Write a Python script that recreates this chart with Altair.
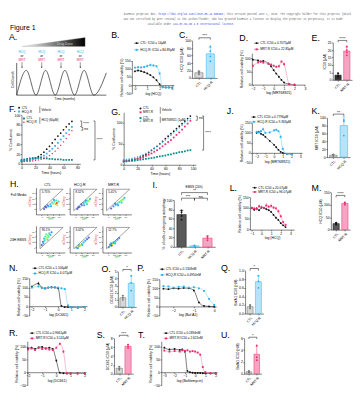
import altair as alt
import pandas as pd

FONT = "Liberation Sans"
MONO = "Liberation Mono"
SX = 0.985
SY = 0.975


def X(r):
    return (r - 4.0) * SX


def Y(r):
    return (r - 1.0) * SY


W = X(362)
H = Y(392)

# ---------------- colours ----------------
BLK = "#111111"
BLUE = "#29b3ee"
BLUE_L = "#86d0f2"
BLUE_F = "#b5e3f8"
PINK = "#ec2d6f"
PINK_L = "#f48db2"
PINK_F = "#f7a3c2"
TEAL = "#0b8a8c"
GRAY_F = "#d6d6d6"
GRAY_S = "#666666"
DARK_F = "#5a5a5a"

# ---------------- header text ----------------
HEADER_1 = ["bioRxiv preprint doi: ", "https://doi.org/10.1101/2025.05.29.656904",
            "; this version posted June 1, 2025. The copyright holder for this preprint (which"]
HEADER_2 = ("was not certified by peer review) is the author/funder, who has granted bioRxiv a "
            "license to display the preprint in perpetuity. It is made")
HEADER_3 = ["available under a", "CC-BY-NC-ND 4.0 International license", "."]

# ---------------- A (schematic) ----------------
A_t = [0, 1, 2, 3, 4, 5, 6, 7, 8, 9.3]
A_v = [0, 1, 0, 1, 0, 1, 0, 1, 0, 0.9]
A_drug_t = [0.55, 2.6, 4.6, 6.6]
A_tri_t = [0.6, 7.1]
A_tri_top = [1.97, 2.33]
A_tri_bot = [1.96, 1.96]

# ---------------- B ----------------
B_x = [0, 0.25, 0.5, 0.75, 1.0, 1.25, 1.5, 1.75, 2.0, 2.25, 2.5, 2.75, 3.0]
B_ctl = [85, 90, 86, 80, 72, 62, 48, 30, 6, -12, -14, -14, -15]
B_ctl_e = [6, 5, 4, 4, 5, 6, 6, 5, 4, 2, 2, 2, 2]
B_hcq = [108, 110, 109, 112, 118, 124, 121, 116, 72, -14, -15, -15, -15]
B_hcq_e = [5, 4, 6, 8, 10, 12, 8, 6, 10, 2, 2, 2, 2]

# ---------------- C ----------------
C_ctl = [10, 14, 18]
C_hcq = [45, 58, 85, 72]

# ---------------- D ----------------
D_x = [-2, -1.5, -1.25, -1.0, -0.5, -0.25, 0, 0.25, 0.5, 0.75, 1.0, 1.5, 2.0]
D_ctl = [95, 92, 88, 90, 80, 70, 55, 42, 30, 18, 8, 2, 0]
D_ctl_e = [4, 4, 3, 4, 4, 4, 4, 3, 3, 3, 2, 1, 1]
D_mrt = [72, 85, 88, 84, 80, 76, 72, 68, 70, 88, 78, 2, 0]
D_mrt_e = [8, 6, 5, 5, 5, 6, 5, 5, 6, 6, 8, 1, 1]

# ---------------- E ----------------
E_ctl = [2.0, 3.0, 4.5]
E_mrt = [16.5, 18.5, 22.5, 20.0]

# ---------------- F (growth) ----------------
F_t = [0, 4, 8, 12, 16, 20, 24, 28, 32, 36, 40, 44, 48, 52, 56, 60, 64, 68, 72]
F_ctl = [5, 6, 7, 8, 10, 12, 15, 19, 24, 30, 36, 43, 50, 57, 63, 70, 76, 82, 87]
F_hcq = [6, 7, 8, 8, 9, 10, 12, 14, 17, 21, 26, 31, 37, 43, 50, 57, 63, 70, 76]
F_ctl_drug = [8, 9, 10, 11, 12, 12, 12, 12, 11, 11, 10, 10, 9, 9, 9, 8, 8, 8, 8]
F_hcq_drug = [4, 5, 5, 5, 6, 7, 8, 9, 11, 14, 17, 21, 26, 32, 38, 45, 52, 60, 68]

# ---------------- G (growth) ----------------
G_t = [0, 4, 8, 12, 16, 20, 24, 28, 32, 36, 40, 44, 48, 52, 56, 60, 64, 68, 72, 76, 80, 84, 88, 92, 96]
G_ctl = [8, 9, 10, 11, 13, 15, 18, 21, 25, 29, 34, 39, 44, 50, 56, 62, 68, 74, 80, 86, 92, 98, 104, 110, 116]
G_mrt = [10, 10, 11, 12, 13, 14, 16, 18, 21, 24, 27, 31, 35, 39, 44, 49, 54, 59, 65, 71, 77, 84, 91, 98, 105]
G_ctl_drug = [8, 8, 9, 9, 10, 11, 12, 13, 14, 15, 16, 17, 19, 20, 21, 22, 24, 25, 27, 28, 30, 31, 32, 34, 35]
G_mrt_drug = [12, 13, 14, 15, 17, 19, 21, 24, 27, 31, 35, 39, 44, 49, 54, 59, 64, 70, 76, 82, 88, 94, 100, 105, 110]

# ---------------- J ----------------
J_x = [-2, -1.75, -1.5, -1.25, -1, -0.5, 0, 0.25, 0.5, 0.75, 1.0, 1.5, 2.0]
J_ctl = [100, 105, 95, 90, 80, 60, 40, 28, 15, 5, 0, -5, -6]
J_ctl_e = [5, 6, 5, 4, 5, 5, 4, 4, 3, 3, 2, 2, 2]
J_hcq = [105, 102, 108, 118, 100, 102, 112, 115, 108, 80, 20, -5, -6]
J_hcq_e = [5, 6, 6, 8, 5, 5, 6, 6, 6, 8, 8, 2, 2]

# ---------------- K ----------------
K_ctl = [3, 5, 7]
K_hcq = [95, 92, 55]

# ---------------- H (flow) ----------------
H_PCT = ["5.75%", "8.52%", "5.41%", "90.1%", "3.02%", "12.7%"]
GATE_X = [0.7, 4.7, 0.7, 0.7]
GATE_Y = [4.7, 4.7, 0.7, 4.7]
H1_X = [1.4, 1.8, 2.2, 2.5, 2.8, 3.0, 3.2, 3.4, 3.6, 3.7, 3.5, 3.9, 2.0, 2.6, 1.6, 3.1]
H1_Y = [1.0, 1.3, 1.5, 1.9, 2.2, 2.0, 2.4, 1.9, 2.1, 1.7, 2.6, 2.4, 1.7, 1.5, 1.4, 2.7]
H1_D = [0.1, 0.15, 0.2, 0.25, 0.3, 0.45, 0.4, 0.7, 0.85, 0.6, 0.35, 0.3, 0.15, 0.2, 0.1, 0.2]
H2_X = [1.3, 1.7, 2.1, 2.4, 2.7, 2.9, 3.1, 3.3, 3.0, 2.5, 3.5, 2.0, 1.5, 2.8]
H2_Y = [1.0, 1.4, 1.7, 2.1, 2.3, 2.2, 2.6, 2.5, 1.9, 1.7, 2.9, 1.9, 1.3, 2.6]
H2_D = [0.1, 0.15, 0.2, 0.25, 0.3, 0.4, 0.35, 0.5, 0.3, 0.2, 0.25, 0.15, 0.1, 0.2]
H3_X = [1.5, 1.9, 2.3, 2.6, 2.9, 3.2, 3.4, 3.6, 3.3, 2.7, 3.8, 2.2]
H3_Y = [1.1, 1.5, 1.8, 2.0, 2.3, 2.5, 2.7, 2.8, 2.2, 1.7, 3.1, 2.0]
H3_D = [0.1, 0.15, 0.2, 0.3, 0.35, 0.45, 0.55, 0.4, 0.3, 0.2, 0.25, 0.15]
H4_X = [1.0, 1.2, 1.4, 1.6, 1.8, 1.5, 1.9, 2.1, 2.3, 2.0, 2.5, 1.3, 2.7, 1.7, 2.2]
H4_Y = [1.4, 2.0, 2.6, 3.0, 3.4, 2.2, 2.8, 3.2, 3.6, 2.4, 3.3, 1.7, 3.8, 2.5, 2.9]
H4_D = [0.1, 0.15, 0.25, 0.35, 0.4, 0.3, 0.5, 0.45, 0.3, 0.35, 0.25, 0.2, 0.15, 0.55, 0.4]
H5_X = [1.2, 1.5, 1.7, 1.9, 2.1, 2.4, 2.7, 3.0, 1.6, 2.2, 3.3, 1.4]
H5_Y = [0.9, 1.1, 1.2, 1.4, 1.6, 1.9, 2.2, 2.5, 1.4, 1.4, 2.8, 0.8]
H5_D = [0.2, 0.4, 0.7, 0.55, 0.35, 0.25, 0.2, 0.15, 0.3, 0.25, 0.1, 0.2]
H6_X = [1.1, 1.4, 1.6, 1.8, 2.0, 2.3, 2.6, 1.3, 1.9, 2.9, 1.5, 2.2]
H6_Y = [1.0, 1.3, 1.3, 1.5, 1.8, 2.1, 2.4, 1.5, 1.9, 2.7, 1.7, 1.7]
H6_D = [0.2, 0.35, 0.9, 0.6, 0.4, 0.3, 0.2, 0.25, 0.3, 0.15, 0.2, 0.25]

# ---------------- I ----------------
I_ctl = [58, 66, 74, 78]
I_hcq = [1, 2, 3]
I_mrt = [14, 19, 23]

# ---------------- L ----------------
L_x = [-1, -0.75, -0.5, -0.25, 0, 0.25, 0.5, 0.75, 1.0, 1.25, 1.5, 1.75, 2.0, 2.25, 2.5]
L_ctl = [100, 92, 98, 90, 102, 100, 95, 90, 82, 68, 55, 45, 30, 20, 12]
L_ctl_e = [6, 5, 6, 5, 6, 5, 5, 5, 5, 5, 5, 4, 4, 3, 3]
L_mrt = [100, 98, 95, 108, 104, 100, 112, 106, 110, 102, 98, 85, 62, 35, 22]
L_mrt_e = [6, 8, 6, 8, 8, 6, 12, 8, 10, 8, 8, 10, 8, 6, 5]

# ---------------- M ----------------
M_ctl = [20, 25, 28]
M_mrt = [100, 106, 110]

# ---------------- N ----------------
N_x = [-2, -1.5, -1.25, -1, -0.75, -0.5, -0.25, 0, 0.25, 0.5, 0.75, 1, 1.5, 2]
N_ctl = [105, 122, 100, 95, 100, 102, 100, 96, 2, -5, -5, -6, -8, -5]
N_ctl_e = [6, 10, 5, 4, 4, 3, 3, 4, 3, 2, 2, 2, 2, 2]
N_hcq = [100, 106, 100, 98, 101, 100, 103, 100, 96, 92, 4, -5, -6, -5]
N_hcq_e = [4, 5, 4, 3, 3, 3, 4, 3, 4, 5, 3, 2, 2, 2]

# ---------------- O ----------------
O_ctl = [1.0, 1.3, 1.6]
O_hcq = [2.3, 3.4, 4.4]

# ---------------- P ----------------
P_x = [-2.5, -2.25, -2, -1.75, -1.5, -1.25, -1, -0.75, -0.5, -0.25, 0]
P_ctl = [98, 95, 100, 98, 102, 100, 88, 22, 3, 0, -2]
P_ctl_e = [4, 4, 3, 4, 3, 3, 5, 5, 2, 2, 2]
P_hcq = [112, 110, 104, 108, 110, 104, 106, 100, 86, 42, 8]
P_hcq_e = [4, 4, 3, 4, 4, 3, 4, 4, 5, 6, 3]

# ---------------- Q ----------------
Q_ctl = [0.12, 0.16, 0.20]
Q_hcq = [0.60, 0.75, 0.88]

# ---------------- R ----------------
R_x = [-2, -1.75, -1.5, -1.25, -1, -0.75, -0.5, -0.25, 0, 0.25, 0.5, 0.75, 1, 1.5, 2]
R_ctl = [92, 95, 90, 96, 98, 92, 95, 90, 45, -2, -4, -5, -5, -5, -5]
R_ctl_e = [4, 4, 4, 4, 4, 4, 4, 4, 6, 2, 2, 2, 2, 2, 2]
R_mrt = [88, 92, 86, 95, 90, 92, 88, 86, 95, 110, 80, -4, -5, -5, -5]
R_mrt_e = [4, 4, 4, 4, 4, 4, 4, 4, 4, 5, 6, 2, 2, 2, 2]

# ---------------- S ----------------
S_ctl = [0.9, 1.2, 1.6]
S_mrt = [5.8, 6.2, 6.6]

# ---------------- T ----------------
T_x = [-3, -2.5, -2, -1.5, -1.25, -1, -0.75, -0.5, -0.25, 0, 0.25, 0.5, 0.75, 1, 1.5, 2]
T_ctl = [95, 88, 90, 86, 88, 80, 5, 0, -2, -3, -3, -3, -4, -4, -5, -5]
T_ctl_e = [4, 4, 4, 4, 4, 4, 3, 2, 2, 2, 2, 2, 2, 2, 2, 2]
T_mrt = [84, 80, 82, 80, 85, 83, 85, 80, 82, 80, 76, 68, 20, 0, -3, -5]
T_mrt_e = [4, 4, 4, 4, 4, 4, 4, 4, 4, 4, 4, 5, 5, 2, 2, 2]

# ---------------- U ----------------
U_ctl = [0.20, 0.30, 0.45]
U_mrt = [2.3, 2.8, 4.8]

ONE = pd.DataFrame({"o": [0]})


# ================= helpers =================
def axis(title, values, orient, offset, angle=None, expr=None, align=None,
         fs=3.5, tfs=3.6, tcolor="black", tick=1.3, lpad=0.5, tpad=1.2):
    kw = dict(title=title, orient=orient, offset=offset, grid=False, domain=True,
              domainColor="black", domainWidth=0.5,
              ticks=True, tickColor="black", tickWidth=0.5, tickSize=tick,
              labelFontSize=fs, labelFont=FONT, labelColor="black", labelPadding=lpad,
              labelOverlap=False, labelFlush=False,
              titleFontSize=tfs, titleFont=FONT, titleFontWeight="normal", titleColor=tcolor,
              titlePadding=tpad, values=values)
    if angle is not None:
        kw["labelAngle"] = angle
    if expr is not None:
        kw["labelExpr"] = expr
    if align is not None:
        kw["labelAlign"] = align
    return alt.Axis(**kw)


def sx(dom, rect):
    return alt.Scale(domain=dom, range=[X(rect[0]), X(rect[2])], nice=False, zero=False)


def sy(dom, rect):
    return alt.Scale(domain=dom, range=[Y(rect[3]), Y(rect[1])], nice=False, zero=False)


def txt(x, y, s, fs=3.5, color="black", align="left", baseline="middle", angle=None, font=FONT):
    kw = dict(fontSize=fs, color=color, align=align, baseline=baseline, font=font, fontWeight="normal")
    if angle is not None:
        kw["angle"] = angle
    return alt.Chart(ONE).mark_text(**kw).encode(x=alt.value(x), y=alt.value(y), text=alt.value(s))


def letter(s, rx, ry):
    return txt(max(X(rx), 0.0), Y(ry), s, fs=9, baseline="alphabetic")


def legend(entries, line=True, gap=3.6, fs=3.2):
    out = []
    for (rx, ry, color, shape, label) in entries:
        lx, ly = X(rx), Y(ry)
        if line:
            out.append(alt.Chart(ONE).mark_rule(color=color, strokeWidth=0.6).encode(
                x=alt.value(lx - 2.5), x2=alt.value(lx + 2.5), y=alt.value(ly)))
        out.append(alt.Chart(ONE).mark_point(filled=True, shape=shape, size=4, color=color, opacity=1).encode(
            x=alt.value(lx), y=alt.value(ly)))
        out.append(txt(lx + gap, ly, label, fs=fs))
    return out


# ================= panels =================
def header():
    fs = 2.7
    cw = 1.62
    gray, blue = "#666666", "#3350f0"
    layers = []
    x = X(123)
    for seg, c in zip(HEADER_1, [gray, blue, gray]):
        layers.append(txt(x, Y(3.3), seg, fs=fs, color=c, font=MONO))
        x += len(seg) * cw
    layers.append(txt(X(123), Y(8.3), HEADER_2, fs=fs, color=gray, font=MONO))
    x = X(148)
    for seg, c in zip(HEADER_3, [gray, blue, gray]):
        layers.append(txt(x, Y(13.3), seg, fs=fs, color=c, font=MONO))
        x += len(seg) * cw
    layers.append(txt(X(5), Y(19.5), "Figure 1", fs=7.2, baseline="alphabetic"))
    return layers


def panel_A():
    rect = (12, 27, 105, 88)
    ts = sx([0, 9.3], rect)
    vs = sy([0, 2.35], rect)
    xe = lambda f: alt.X(f, scale=ts, axis=None)
    ye = lambda f: alt.Y(f, scale=vs, axis=None)
    layers = []
    tri = pd.DataFrame({"t": A_tri_t, "top": A_tri_top, "bot": A_tri_bot})
    grad = alt.Gradient(gradient="linear", x1=0, y1=0, x2=1, y2=0,
                        stops=[alt.GradientStop(color="#ffffff", offset=0),
                               alt.GradientStop(color="#000000", offset=1)])
    layers.append(alt.Chart(tri).mark_area(color=grad, stroke="#9a9a9a", strokeWidth=0.3).encode(
        x=xe("t:Q"), y=ye("top:Q"), y2="bot:Q"))
    layers.append(alt.Chart(pd.DataFrame({"t": [5.0], "v": [2.08], "s": ["Drug Dose"]})).mark_text(
        fontSize=3.4, color="#d0d0d0", font=FONT).encode(x=xe("t:Q"), y=ye("v:Q"), text="s:N"))
    ax = pd.DataFrame({"t": [0, 0], "t2": [9.3, 0], "v": [0, 0], "v2": [0, 1.3]})
    layers.append(alt.Chart(ax).mark_rule(color="black", strokeWidth=0.6).encode(
        x=xe("t:Q"), x2="t2:Q", y=ye("v:Q"), y2="v2:Q"))
    wave = pd.DataFrame({"t": A_t, "v": A_v})
    layers.append(alt.Chart(wave).mark_line(color="#222222", strokeWidth=0.7, interpolate="monotone").encode(
        x=xe("t:Q"), y=ye("v:Q")))
    for s, vv, c in [("HCQ", 1.74, BLUE), ("or", 1.58, "black"), ("MRT", 1.42, PINK)]:
        d = pd.DataFrame({"t": A_drug_t, "v": [vv] * 4, "s": [s] * 4})
        layers.append(alt.Chart(d).mark_text(fontSize=3.3, color=c, font=FONT).encode(
            x=xe("t:Q"), y=ye("v:Q"), text="s:N"))
    arr = pd.DataFrame({"t": A_drug_t, "a": [1.33] * 4, "b": [1.12] * 4})
    layers.append(alt.Chart(arr).mark_rule(color="black", strokeWidth=0.4).encode(
        x=xe("t:Q"), y=ye("a:Q"), y2="b:Q"))
    layers.append(alt.Chart(arr).mark_point(shape="triangle-down", filled=True, size=2.5, color="black", opacity=1).encode(
        x=xe("t:Q"), y=ye("b:Q")))
    layers.append(alt.Chart(pd.DataFrame({"t": [-0.42], "v": [0.62], "s": ["Cell Growth"]})).mark_text(
        fontSize=3.3, angle=270, font=FONT).encode(x=xe("t:Q"), y=ye("v:Q"), text="s:N"))
    layers.append(alt.Chart(pd.DataFrame({"t": [5.0], "v": [-0.17], "s": ["Time (months)"]})).mark_text(
        fontSize=3.3, font=FONT).encode(x=xe("t:Q"), y=ye("v:Q"), text="s:N"))
    layers.append(letter("A.", 4, 30))
    return alt.layer(*layers)


def dose_panel(rect, xdom, xticks, ydom, yticks, xtitle, series, leg, let):
    xs = sx(xdom, rect)
    ys = sy(ydom, rect)
    zero_px = Y(rect[3]) - (Y(rect[3]) - Y(rect[1])) * (0 - ydom[0]) / (ydom[1] - ydom[0])
    xa = axis(xtitle, xticks, "bottom", zero_px - H)
    ya = axis("Relative cell viability (%)", yticks, "left", -X(rect[0]))
    layers = []
    for (xv, yv, ev, color, lcolor, shape) in series:
        df = pd.DataFrame({"x": xv, "y": yv, "e": ev})
        b = alt.Chart(df)
        layers.append(b.mark_line(color=lcolor, strokeWidth=0.6, interpolate="monotone").encode(
            x=alt.X("x:Q", scale=xs, axis=xa), y=alt.Y("y:Q", scale=ys, axis=ya)))
        layers.append(b.transform_calculate(lo="datum.y - datum.e", hi="datum.y + datum.e").mark_rule(
            color=color, strokeWidth=0.35).encode(
            x=alt.X("x:Q", scale=xs, axis=xa), y=alt.Y("lo:Q", scale=ys, axis=ya), y2="hi:Q"))
        layers.append(b.mark_point(filled=True, shape=shape, size=3.5, color=color, opacity=1).encode(
            x=alt.X("x:Q", scale=xs, axis=xa), y=alt.Y("y:Q", scale=ys, axis=ya)))
    layers += legend(leg)
    layers.append(letter(*let))
    return alt.layer(*layers)


def bar_panel(rect, cats, pts, styles, ydom, yticks, ytitle, sigs, let, extra=()):
    n = len(cats)
    xs = sx([-0.6, n - 0.4], rect)
    ys = sy(ydom, rect)
    lab = "[" + ",".join("'%s'" % c for c in cats) + "][datum.value]"
    xa = axis(None, list(range(n)), "bottom", Y(rect[3]) - H, angle=-45, expr=lab, align="right", lpad=0.8)
    ya = axis(ytitle, yticks, "left", -X(rect[0]))
    X_ = lambda f: alt.X(f, scale=xs, axis=xa)
    Y_ = lambda f: alt.Y(f, scale=ys, axis=ya)
    layers = []
    for k in range(n):
        fill, stroke, dot = styles[k]
        df = pd.DataFrame({"v": pts[k]})
        agg = alt.Chart(df).transform_aggregate(m="mean(v)", sd="stdev(v)").transform_calculate(
            xa="%d - 0.36" % k, xb="%d + 0.36" % k, xc="%d" % k, ca="%d - 0.14" % k, cb="%d + 0.14" % k,
            t="datum.m + datum.sd")
        layers.append(agg.mark_bar(fill=fill, stroke=stroke, strokeWidth=0.5).encode(
            x=X_("xa:Q"), x2="xb:Q", y=Y_("m:Q"), y2=alt.datum(0)))
        layers.append(agg.mark_rule(color=stroke, strokeWidth=0.5).encode(
            x=X_("xc:Q"), y=Y_("m:Q"), y2="t:Q"))
        layers.append(agg.mark_rule(color=stroke, strokeWidth=0.5).encode(
            x=X_("ca:Q"), x2="cb:Q", y=Y_("t:Q")))
        layers.append(alt.Chart(df).transform_calculate(xc="%d" % k).mark_point(
            filled=True, size=3.5, color=dot, opacity=1).encode(x=X_("xc:Q"), y=Y_("v:Q")))
    d = (ydom[1] - ydom[0]) * 0.05
    for (a, b, yv, s) in sigs:
        sdf = pd.DataFrame({"xa": [a], "xb": [b], "y": [yv], "yl": [yv - d], "xm": [(a + b) / 2.0], "s": [s]})
        base = alt.Chart(sdf)
        layers.append(base.mark_rule(color="black", strokeWidth=0.5).encode(x=X_("xa:Q"), x2="xb:Q", y=Y_("y:Q")))
        layers.append(base.mark_rule(color="black", strokeWidth=0.5).encode(x=X_("xa:Q"), y=Y_("y:Q"), y2="yl:Q"))
        layers.append(base.mark_rule(color="black", strokeWidth=0.5).encode(x=X_("xb:Q"), y=Y_("y:Q"), y2="yl:Q"))
        layers.append(base.mark_text(fontSize=4.2, baseline="bottom", dy=0.6, font=FONT).encode(
            x=X_("xm:Q"), y=Y_("y:Q"), text="s:N"))
    layers.append(letter(*let))
    layers += list(extra)
    return alt.layer(*layers)


def growth_panel(rect, xdom, xticks, ydom, yticks, t, series, leg, braces, sigs, let):
    xs = sx(xdom, rect)
    ys = sy(ydom, rect)
    xa = axis("Time (hours)", xticks, "bottom", Y(rect[3]) - H)
    ya = axis("% Confluence", yticks, "left", -X(rect[0]))
    X_ = lambda f: alt.X(f, scale=xs, axis=xa)
    Y_ = lambda f: alt.Y(f, scale=ys, axis=ya)
    layers = []
    for (vals, color, shape) in series:
        df = pd.DataFrame({"t": t, "v": vals})
        layers.append(alt.Chart(df).mark_point(filled=True, shape=shape, size=3.2, color=color, opacity=1).encode(
            x=X_("t:Q"), y=Y_("v:Q")))
    layers += legend(leg, line=False, gap=2.6)
    for (rx, ra, rb, label) in braces:
        bx = X(rx)
        layers.append(alt.Chart(ONE).mark_rule(color="black", strokeWidth=0.45).encode(
            x=alt.value(bx), y=alt.value(Y(ra)), y2=alt.value(Y(rb))))
        layers.append(txt(bx + 1.6, (Y(ra) + Y(rb)) / 2.0, label, fs=3.1))
    pxu = (X(rect[2]) - X(rect[0])) / (xdom[1] - xdom[0])
    dt = 1.6 / pxu
    for (tx, a, b, s) in sigs:
        sdf = pd.DataFrame({"t": [tx], "t0": [tx - dt], "tl": [tx + dt], "a": [a], "b": [b],
                            "m": [(a + b) / 2.0], "s": [s]})
        base = alt.Chart(sdf)
        layers.append(base.mark_rule(color="black", strokeWidth=0.5).encode(x=X_("t:Q"), y=Y_("a:Q"), y2="b:Q"))
        layers.append(base.mark_rule(color="black", strokeWidth=0.5).encode(x=X_("t0:Q"), x2="t:Q", y=Y_("a:Q")))
        layers.append(base.mark_rule(color="black", strokeWidth=0.5).encode(x=X_("t0:Q"), x2="t:Q", y=Y_("b:Q")))
        layers.append(base.mark_text(fontSize=3.8, align="left", baseline="middle", font=FONT).encode(
            x=X_("tl:Q"), y=Y_("m:Q"), text="s:N"))
    layers.append(letter(*let))
    return alt.layer(*layers)


def flow_panel(rect, gx, gy, gd, pct):
    sc_x = sx([0, 5], rect)
    sc_y = sy([0, 5], rect)
    expr = "['','0','10³','10⁴','10⁵'][datum.value]"
    xa = axis("GFP", [1, 2, 3, 4], "bottom", Y(rect[3]) - H, expr=expr, fs=2.1, tfs=2.8,
              tcolor="#2ea83a", tick=0.8, tpad=0.4, lpad=0.3)
    ya = axis("mCherry", [1, 2, 3, 4], "left", -X(rect[0]), expr=expr, fs=2.1, tfs=2.8,
              tcolor="#e53935", tick=0.8, tpad=0.4, lpad=0.3)
    X_ = lambda f: alt.X(f, scale=sc_x, axis=xa)
    Y_ = lambda f: alt.Y(f, scale=sc_y, axis=ya)
    layers = []
    dfp = pd.DataFrame({"x": gx, "y": gy, "d": gd})
    layers.append(alt.Chart(dfp).mark_circle(size=5, opacity=0.9).encode(
        x=X_("x:Q"), y=Y_("y:Q"),
        color=alt.Color("d:Q", scale=alt.Scale(domain=[0, 1], scheme="turbo"), legend=None)))
    gate = pd.DataFrame({"x": GATE_X, "y": GATE_Y, "o": [0, 1, 2, 3]})
    layers.append(alt.Chart(gate).mark_line(color="#444444", strokeWidth=0.5).encode(
        x=X_("x:Q"), y=Y_("y:Q"), order="o:Q"))
    layers.append(alt.Chart(pd.DataFrame({"x": [1.0], "y": [4.2], "s": [pct]})).mark_text(
        fontSize=3.0, align="left", font=FONT).encode(x=X_("x:Q"), y=Y_("y:Q"), text="s:N"))
    return alt.layer(*layers)


def panel_H():
    cols_x = [(32, 62), (67, 97), (101, 131)]
    data_top = [(H1_X, H1_Y, H1_D), (H2_X, H2_Y, H2_D), (H3_X, H3_Y, H3_D)]
    data_bot = [(H4_X, H4_Y, H4_D), (H5_X, H5_Y, H5_D), (H6_X, H6_Y, H6_D)]
    out = []
    for i in range(3):
        x0, x1 = cols_x[i]
        out.append(flow_panel((x0, 185, x1, 213), *data_top[i], H_PCT[i]))
        out.append(flow_panel((x0, 225, x1, 253), *data_bot[i], H_PCT[i + 3]))
    labels = [txt(X(44), Y(181.8), "CTL", fs=3.6, align="center"),
              txt(X(77.5), Y(181.8), "HCQ-R", fs=3.6, align="center"),
              txt(X(112.5), Y(181.8), "MRT-R", fs=3.6, align="center"),
              txt(X(14), Y(193), "Full Media", fs=3.5, align="center"),
              txt(X(13.5), Y(240), "24H EBSS", fs=3.5, align="center"),
              letter("H.", 5, 184.5)]
    return out + labels


# ================= build =================
panels = []
panels += header()
panels.append(panel_A())
panels.append(dose_panel(
    (131.5, 52, 175, 86), [-0.25, 3.15], [0, 1, 2, 3], [-50, 150], [-50, 0, 50, 100, 150], "log (HCQ)",
    [(B_x, B_ctl, B_ctl_e, BLK, "#222222", "circle"), (B_x, B_hcq, B_hcq_e, BLUE, BLUE_L, "square")],
    [(136.5, 33.5, BLK, "circle", "CTL: IC50 = 14μM"), (136.5, 40.5, BLUE, "square", "HCQ-R: IC50 = 84.89μM")],
    ("B.", 110, 28.5)))
panels.append(bar_panel(
    (194, 31, 220, 70), ["CTL", "HCQ-R"], [C_ctl, C_hcq],
    [(GRAY_F, GRAY_S, "#777777"), (BLUE_F, BLUE, BLUE)], [0, 100], [0, 20, 40, 60, 80, 100],
    "HCQ IC50 (μM)", [(0, 1, 108, "***")], ("C.", 180.5, 28.3)))
panels.append(dose_panel(
    (256, 44, 311, 77), [-2.1, 3.0], [-2, -1, 0, 1, 2, 3], [0, 120], [0, 50, 100], "log (MRT68921)",
    [(D_x, D_ctl, D_ctl_e, BLK, "#222222", "circle"), (D_x, D_mrt, D_mrt_e, PINK, PINK_L, "square")],
    [(261, 33.5, BLK, "circle", "CTL IC50 = 0.7075μM"), (261, 40, PINK, "square", "MRT-R IC50 = 22.85μM")],
    ("D.", 243, 31)))
panels.append(bar_panel(
    (340, 33, 360, 72), ["CTL", "MRT-R"], [E_ctl, E_mrt],
    [("#333333", "#111111", "#111111"), (PINK_F, PINK, PINK)], [0, 25], [0, 5, 10, 15, 20, 25],
    "IC50 (μM)", [(0, 1, 26.5, "****")], ("E.", 318, 31)))

panels.append(growth_panel(
    (17, 109, 78, 160), [0, 84], [0, 20, 40, 60, 80], [0, 100], [0, 20, 40, 60, 80, 100], F_t,
    [(F_ctl, BLK, "circle"), (F_hcq, BLUE, "square"), (F_ctl_drug, TEAL, "square"), (F_hcq_drug, PINK, "diamond")],
    [(14.5, 101.3, BLK, "circle", "CTL"), (14.5, 105.2, BLUE, "square", "HCQ-R"),
     (19.5, 112.5, TEAL, "square", "CTL"), (19.5, 116.5, PINK, "diamond", "HCQ-R")],
    [(36, 99.8, 106.7, "Vehicle"), (36, 111, 118, "HCQ (60μM)")],
    [(86, 88, 77, "****"), (87.5, 75, 69, "ns"), (105, 88, 8, "****")],
    ("F.", 4, 105.5)))
panels.append(growth_panel(
    (123, 106, 198, 161), [0, 104], [0, 20, 40, 60, 80, 100], [0, 125], [0, 50, 100], G_t,
    [(G_ctl, BLK, "circle"), (G_mrt, PINK, "square"), (G_ctl_drug, TEAL, "square"), (G_mrt_drug, BLUE, "diamond")],
    [(140.5, 102, BLK, "circle", "CTL"), (140.5, 106, PINK, "square", "MRT-R"),
     (140.5, 112, TEAL, "square", "CTL"), (140.5, 115.5, BLUE, "diamond", "MRT-R")],
    [(161, 100.5, 107.5, "Vehicle"), (161, 110.5, 117, "MRT68921 (1μM)")],
    [(106, 116, 106, "ns"), (115, 116, 35, "****")],
    ("G.", 110, 108.5)))
panels.append(dose_panel(
    (256, 117, 308, 159), [-2.55, 3.2], [-2, -1, 0, 1, 2, 3], [-50, 150], [-50, 0, 50, 100, 150], "log (MRT68921)",
    [(J_x, J_ctl, J_ctl_e, BLK, "#222222", "circle"), (J_x, J_hcq, J_hcq_e, BLUE, BLUE_L, "square")],
    [(258, 111, BLK, "circle", "CTL IC50 = 0.7796μM"), (258, 116, BLUE, "square", "HCQ-R IC50 = 9.363μM")],
    ("J.", 230, 107.5)))
panels.append(bar_panel(
    (334, 112, 358, 153), ["CTL", "HCQ-R"], [K_ctl, K_hcq],
    [(GRAY_F, GRAY_S, "#777777"), (BLUE_F, BLUE, BLUE)], [0, 100], [0, 20, 40, 60, 80, 100],
    "MRT IC50 (μM)", [(0, 1, 110, "**")], ("K.", 318, 107.5)))

panels += panel_H()
panels.append(bar_panel(
    (175, 198, 218, 247), ["CTL", "HCQ-R", "MRT-R"], [I_ctl, I_hcq, I_mrt],
    [(DARK_F, "#111111", "#111111"), (BLUE_F, BLUE, BLUE), (PINK_F, PINK, PINK)],
    [0, 100], [0, 20, 40, 60, 80, 100], "% of cells undergoing autophagy",
    [(0, 1, 104, "***"), (1, 2, 104, "ns"), (0, 2, 116, "**")], ("I.", 153, 185),
    extra=[txt(X(196), Y(184), "EBSS (24h)", fs=3.3, align="center")]))
panels.append(dose_panel(
    (254, 195, 300, 229), [-1.2, 3.4], [-1, 0, 1, 2, 3], [0, 150], [0, 50, 100, 150], "log (HCQ)",
    [(L_x, L_ctl, L_ctl_e, BLK, "#222222", "circle"), (L_x, L_mrt, L_mrt_e, PINK, PINK_L, "square")],
    [(259, 185, BLK, "circle", "CTL IC50 = 20.07μM"), (259, 189.5, PINK, "square", "MRT-R IC50 = 96.07μM")],
    ("L.", 233, 188)))
panels.append(bar_panel(
    (338, 190, 358, 229), ["CTL", "MRT-R"], [M_ctl, M_mrt],
    [(DARK_F, "#111111", "#111111"), (PINK_F, PINK, PINK)], [0, 150], [0, 50, 100, 150],
    "HCQ IC50 (μM)", [(0, 1, 138, "****")], ("M.", 318, 188)))

panels.append(dose_panel(
    (25, 280, 85, 319), [-2.2, 2.2], [-2, -1, 0, 1, 2], [-50, 150], [-50, 0, 50, 100, 150], "log (DC661)",
    [(N_x, N_ctl, N_ctl_e, BLK, "#222222", "circle"), (N_x, N_hcq, N_hcq_e, BLUE, BLUE_L, "square")],
    [(31, 269.5, BLK, "circle", "CTL IC50 = 1.106μM"), (31, 275, BLUE, "square", "HCQ-R IC50 = 4.071μM")],
    ("N.", 4, 272)))
panels.append(bar_panel(
    (117, 273, 136, 310), ["CTL", "HCQ-R"], [O_ctl, O_hcq],
    [(GRAY_F, GRAY_S, "#777777"), (BLUE_F, BLUE, BLUE)], [0, 5], [0, 1, 2, 3, 4, 5],
    "DC661 IC50 (μM)", [(0, 1, 5.3, "*")], ("O.", 100, 273)))
panels.append(dose_panel(
    (160, 281, 219, 319), [-2.7, 0.1], [-2, -1, 0], [-50, 150], [-50, 0, 50, 100, 150], "log (Baf A1)",
    [(P_x, P_ctl, P_ctl_e, BLK, "#222222", "circle"), (P_x, P_hcq, P_hcq_e, BLUE, BLUE_L, "square")],
    [(163, 270.5, BLK, "circle", "CTL IC50 = 0.1303nM"), (163, 276.5, BLUE, "square", "HCQ-R IC50 = 0.4950nM")],
    ("P.", 137, 272.5)))
panels.append(bar_panel(
    (249, 272, 268, 317), ["CTL", "HCQ-R"], [Q_ctl, Q_hcq],
    [(GRAY_F, GRAY_S, "#777777"), (BLUE_F, BLUE, BLUE)], [0, 1.0], [0, 0.2, 0.4, 0.6, 0.8, 1.0],
    "BafA1 IC50 (nM)", [(0, 1, 1.05, "*")], ("Q.", 224, 272)))

panels.append(dose_panel(
    (23, 346, 84, 392), [-2.05, 2.1], [-2, -1, 0, 1, 2], [-50, 120], [-50, 0, 50, 100], "log (DC661)",
    [(R_x, R_ctl, R_ctl_e, BLK, "#222222", "circle"), (R_x, R_mrt, R_mrt_e, PINK, PINK_L, "square")],
    [(28, 337.5, BLK, "circle", "CTL IC50 = 0.9661μM"), (28, 343, PINK, "square", "MRT-R IC50 = 3.141μM")],
    ("R.", 4, 341)))
panels.append(bar_panel(
    (113, 343, 133, 380), ["CTL", "MRT-R"], [S_ctl, S_mrt],
    [(GRAY_F, GRAY_S, "#777777"), (PINK_F, PINK, PINK)], [0, 8], [0, 2, 4, 6, 8],
    "DC661 IC50 (μM)", [(0, 1, 8.7, "***")], ("S.", 95, 343)))
panels.append(dose_panel(
    (162, 346, 220, 392), [-3.3, 2.15], [-3, -2, -1, 0, 1, 2], [-50, 120], [-50, 0, 50, 100], "log (Bafilomycin)",
    [(T_x, T_ctl, T_ctl_e, BLK, "#222222", "circle"), (T_x, T_mrt, T_mrt_e, PINK, PINK_L, "square")],
    [(167, 337.5, BLK, "circle", "CTL IC50 = 0.1894nM"), (167, 343, PINK, "square", "MRT-R IC50 = 2.621nM")],
    ("T.", 138, 343)))
panels.append(bar_panel(
    (248, 343, 266, 380), ["CTL", "MRT-R"], [U_ctl, U_mrt],
    [(GRAY_F, GRAY_S, "#777777"), (PINK_F, PINK, PINK)], [0, 6], [0, 2, 4, 6],
    "BafA1 IC50 (nM)", [(0, 1, 6.2, "*")], ("U.", 224, 343)))

chart = alt.layer(*panels).resolve_scale(x="independent", y="independent").properties(
    width=W, height=H, padding=0, background="white")
chart = chart.configure_view(strokeWidth=0)
chart.save("out.html", embed_options={"renderer": "svg", "actions": False})
